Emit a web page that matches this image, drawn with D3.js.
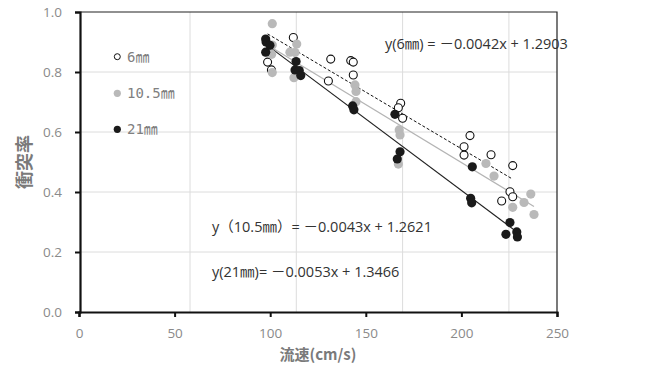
<!DOCTYPE html>
<html>
<head>
<meta charset="utf-8">
<script src="https://cdn.jsdelivr.net/npm/d3@7"></script>
<style>
  body { margin: 0; background: #fff; }
  svg { display: block; }
  text { font-family: "Open Sans", "Noto Sans CJK JP", sans-serif; }
</style>
</head>
<body>
<div id="chart"></div>
<script>
// series data (flow speed cm/s, collision rate)
const speed6 = [86.5, 88.3, 98.6, 116.2, 115.1, 125.6, 126.8, 126.8, 149.1, 148.0, 150.0,
                181.7, 178.9, 178.9, 191.6, 201.8, 200.5, 201.8, 196.6];
const rate6  = [0.833, 0.807, 0.915, 0.843, 0.770, 0.838, 0.833, 0.790, 0.696, 0.681, 0.646,
                0.588, 0.551, 0.523, 0.524, 0.488, 0.401, 0.384, 0.370];

const speed105 = [88.7, 88.7, 88.4, 88.7, 100.2, 97.0, 99.4, 98.9, 127.6, 128.1, 128.1,
                  148.4, 148.8, 148.0, 189.2, 193.0, 210.3, 207.1, 201.8, 211.8];
const rate105  = [0.961, 0.890, 0.859, 0.798, 0.893, 0.866, 0.865, 0.781, 0.757, 0.735, 0.701,
                  0.607, 0.590, 0.493, 0.495, 0.453, 0.393, 0.365, 0.349, 0.325];

const speed21 = [85.6, 85.8, 87.6, 85.6, 99.9, 99.4, 101.4, 102.1, 126.5, 127.1, 146.4,
                 148.8, 147.5, 182.8, 182.0, 182.5, 200.5, 198.6, 203.7, 204.0];
const rate21  = [0.910, 0.900, 0.889, 0.866, 0.835, 0.807, 0.805, 0.788, 0.687, 0.674, 0.659,
                 0.534, 0.510, 0.484, 0.379, 0.364, 0.298, 0.259, 0.267, 0.250];

// trend lines: slope, intercept
const seriesNames = ["6㎜", "10.5㎜", "21㎜"];
const slopes      = [-0.0042, -0.0043, -0.0053];
const intercepts  = [1.2903, 1.2621, 1.3466];
const equations   = ["y(6㎜) = －0.0042x + 1.2903",
                     "y（10.5㎜）= －0.0043x + 1.2621",
                     "y(21㎜)= －0.0053x + 1.3466"];

const xTicks = [0, 50, 100, 150, 200, 250];
const yTicks = [0.0, 0.2, 0.4, 0.6, 0.8, 1.0];
const xGrid  = [50, 100, 150, 200];

// size setup
const width = 646, height = 367;
const plot = {left: 80, right: 557, top: 12, bottom: 312};

const svg = d3.select('#chart').append('svg')
    .attr('width', width)
    .attr('height', height);

// scales: the axis labels and the data/gridlines sit on different spacings in the original
const xAxisScale = d3.scaleLinear().domain([0, 250]).range([plot.left - 1, plot.right]);
const xScale = d3.scaleLinear().domain([0, 250]).range([83.7, 615.2]);
const yScale = d3.scaleLinear().domain([0, 1]).range([plot.bottom, plot.top]);

// gridlines
svg.append('g').selectAll('line.hg')
    .data(yTicks.filter(d => d > 0 && d < 1))
    .enter().append('line')
    .attr('x1', plot.left).attr('x2', plot.right)
    .attr('y1', d => yScale(d)).attr('y2', d => yScale(d))
    .style('stroke', '#dcdcdc').style('stroke-width', 1);

svg.append('g').selectAll('line.vg')
    .data(xGrid)
    .enter().append('line')
    .attr('x1', d => xScale(d)).attr('x2', d => xScale(d))
    .attr('y1', plot.top).attr('y2', plot.bottom)
    .style('stroke', '#dcdcdc').style('stroke-width', 1);

// frame (top and right)
svg.append('path')
    .attr('d', `M${plot.left},${plot.top}H${plot.right}V${plot.bottom}`)
    .style('fill', 'none').style('stroke', '#222').style('stroke-width', 1.2);

// axes
const xAxis = d3.axisBottom(xAxisScale).tickValues(xTicks).tickSize(5).tickPadding(11)
    .tickFormat(d3.format('d'));
const yAxis = d3.axisLeft(yScale).tickValues(yTicks).tickSize(5).tickPadding(13)
    .tickFormat(d3.format('.1f'));

const axiX = svg.append('g')
    .attr('transform', 'translate(0,' + plot.bottom + ')')
    .call(xAxis);
const axiY = svg.append('g')
    .attr('transform', 'translate(' + plot.left + ',0)')
    .call(yAxis);

[axiX, axiY].forEach(a => {
    a.select('.domain').style('stroke', '#111').style('stroke-width', 2.2);
    a.selectAll('.tick line').style('stroke', '#111').style('stroke-width', 2);
    a.selectAll('.tick text')
        .style('fill', '#8a8a8a')
        .style('font-size', '13.5px')
        .style('font-family', '"Open Sans", "Noto Sans", sans-serif');
});

// trend lines
const seriesX = [speed6, speed105, speed21];
const lineStyles = [
    {stroke: '#111', dash: '3,2', width: 1},
    {stroke: '#b4b4b4', dash: null, width: 1.2},
    {stroke: '#222', dash: null, width: 1.2}
];
const line = d3.line().x(d => xScale(d[0])).y(d => yScale(d[1]));

seriesX.forEach((xs, i) => {
    const ext = d3.extent(xs);
    const pts = ext.map(x => [x, slopes[i] * x + intercepts[i]]);
    svg.append('path')
        .datum(pts)
        .attr('d', line)
        .style('fill', 'none')
        .style('stroke', lineStyles[i].stroke)
        .style('stroke-width', lineStyles[i].width)
        .style('stroke-dasharray', lineStyles[i].dash);
});

// points
const markerStyles = [
    {fill: '#fff', stroke: '#111'},
    {fill: '#b9b9b9', stroke: 'none'},
    {fill: '#1a1a1a', stroke: 'none'}
];
const seriesY = [rate6, rate105, rate21];

seriesX.forEach((xs, i) => {
    svg.append('g').selectAll('circle')
        .data(xs.map((x, j) => ({x: x, y: seriesY[i][j]})))
        .enter().append('circle')
        .attr('cx', d => xScale(d.x))
        .attr('cy', d => yScale(d.y))
        .attr('r', i === 0 ? 4 : 4.6)
        .style('fill', markerStyles[i].fill)
        .style('stroke', markerStyles[i].stroke)
        .style('stroke-width', 1.1);
});

// legend
const legendY = [56.7, 93.3, 129.3];
seriesNames.forEach((name, i) => {
    svg.append('circle')
        .attr('cx', 117.3).attr('cy', legendY[i])
        .attr('r', i === 0 ? 3 : 3.6)
        .style('fill', markerStyles[i].fill)
        .style('stroke', markerStyles[i].stroke)
        .style('stroke-width', 1);
    svg.append('text')
        .attr('x', 127).attr('y', legendY[i])
        .attr('dy', '0.35em')
        .style('font-size', '14px')
        .style('font-family', '"DejaVu Sans Mono", "Noto Sans CJK JP", monospace')
        .style('fill', '#808080')
        .text(name);
});

// equations
const eqPos = [[385, 44], [212, 226.5], [212, 271.5]];
equations.forEach((eq, i) => {
    svg.append('text')
        .attr('x', eqPos[i][0]).attr('y', eqPos[i][1])
        .attr('dy', '0.35em')
        .style('font-size', '14.5px')
        .style('fill', '#333')
        .text(eq);
});

// axis titles
svg.append('text')
    .attr('x', 318).attr('y', 355)
    .attr('dy', '0.35em')
    .attr('text-anchor', 'middle')
    .style('font-size', '15px')
    .style('font-weight', 'bold')
    .style('fill', '#7a7a7a')
    .style('font-family', '"Noto Sans CJK JP", sans-serif')
    .text('流速(cm/s)');

svg.append('text')
    .attr('transform', 'translate(25,162) rotate(-90)')
    .attr('dy', '0.35em')
    .attr('text-anchor', 'middle')
    .style('font-size', '18px')
    .style('font-weight', 'bold')
    .style('fill', '#7a7a7a')
    .style('font-family', '"Noto Sans CJK JP", sans-serif')
    .text('衝突率');
</script>
</body>
</html>
